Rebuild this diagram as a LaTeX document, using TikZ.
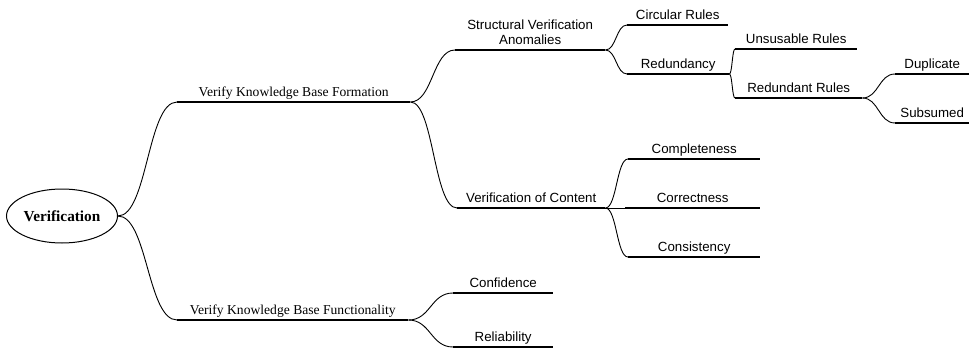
\documentclass[tikz,border=0pt]{standalone}
\usepackage{fontspec}
\setmainfont{Liberation Serif}
\newfontfamily\labelsans{Liberation Sans}
\usetikzlibrary{calc,shapes.geometric}
\begin{document}
\begin{tikzpicture}[x=1pt,y=-1pt,
  branch/.style={anchor=south west, inner xsep=0pt, inner ysep=5pt, text depth=0pt,
    font=\labelsans\fontsize{13.3}{15}\selectfont},
  topic/.style={branch, font=\fontsize{13.6}{16}\selectfont},
  ul/.style={line width=2pt},
  link/.style={line width=0.9pt,
    to path={let \p1=(\tikztostart), \p2=(\tikztotarget), \n1={0.5*(\x2-\x1)} in
      .. controls +(\n1,0) and +(-\n1,0) .. (\tikztotarget)}},
]
\useasboundingbox (0,0) rectangle (969,348);

% root
\node[ellipse, draw, line width=1pt, minimum width=111pt, minimum height=54pt, inner sep=0pt,
  font=\bfseries\fontsize{15.3}{18}\selectfont] (root) at (62,216) {Verification};

% first level
\node[topic, minimum width=233pt] (vkf)   at (177,102) {Verify Knowledge Base Formation};
\node[topic, minimum width=231pt] (vkfun) at (177,320) {Verify Knowledge Base Functionality};

% second level
\node[branch, minimum width=150pt, align=center, text depth={}] (sva) at (455,50)
  {Structural Verification\\Anomalies};
\node[branch, minimum width=148pt] (voc)  at (457,208) {Verification of Content};
\node[branch, minimum width=100pt] (conf) at (453,293) {Confidence};
\node[branch, minimum width=100pt] (rel)  at (453,347) {Reliability};

% third level
\node[branch, minimum width=101pt] (cr)   at (627,25)  {Circular Rules};
\node[branch, minimum width=102pt] (red)  at (627,74)  {Redundancy};
\node[branch, minimum width=132pt] (comp) at (628,159) {Completeness};
\node[branch, minimum width=135pt] (corr) at (625,208) {Correctness};
\node[branch, minimum width=132pt] (cons) at (628,257) {Consistency};

% fourth and fifth level
\node[branch, minimum width=122pt] (uns)  at (735,49)  {Unsusable Rules};
\node[branch, minimum width=127pt] (rr)   at (735,98)  {Redundant Rules};
\node[branch, minimum width=74pt]  (dup)  at (895,74)  {Duplicate};
\node[branch, minimum width=74pt]  (sub)  at (895,123) {Subsumed};

% underlines
\foreach \n in {vkf,vkfun,sva,voc,conf,rel,cr,red,comp,corr,cons,uns,rr,dup,sub}
  \draw[ul] (\n.south west) -- (\n.south east);

% connectors
\draw[link] (root.east) to (vkf.south west);
\draw[link] (root.east) to (vkfun.south west);
\draw[link] (vkf.south east) to (sva.south west);
\draw[link] (vkf.south east) to (voc.south west);
\draw[link] (vkfun.south east) to (conf.south west);
\draw[link] (vkfun.south east) to (rel.south west);
\draw[link] (sva.south east) to (cr.south west);
\draw[link] (sva.south east) to (red.south west);
\draw[link] (red.south east) to (uns.south west);
\draw[link] (red.south east) to (rr.south west);
\draw[link] (rr.south east) to (dup.south west);
\draw[link] (rr.south east) to (sub.south west);
\draw[link] (voc.south east) to (comp.south west);
\draw[link] (voc.south east) to (corr.south west);
\draw[link] (voc.south east) to (cons.south west);
\end{tikzpicture}
\end{document}
